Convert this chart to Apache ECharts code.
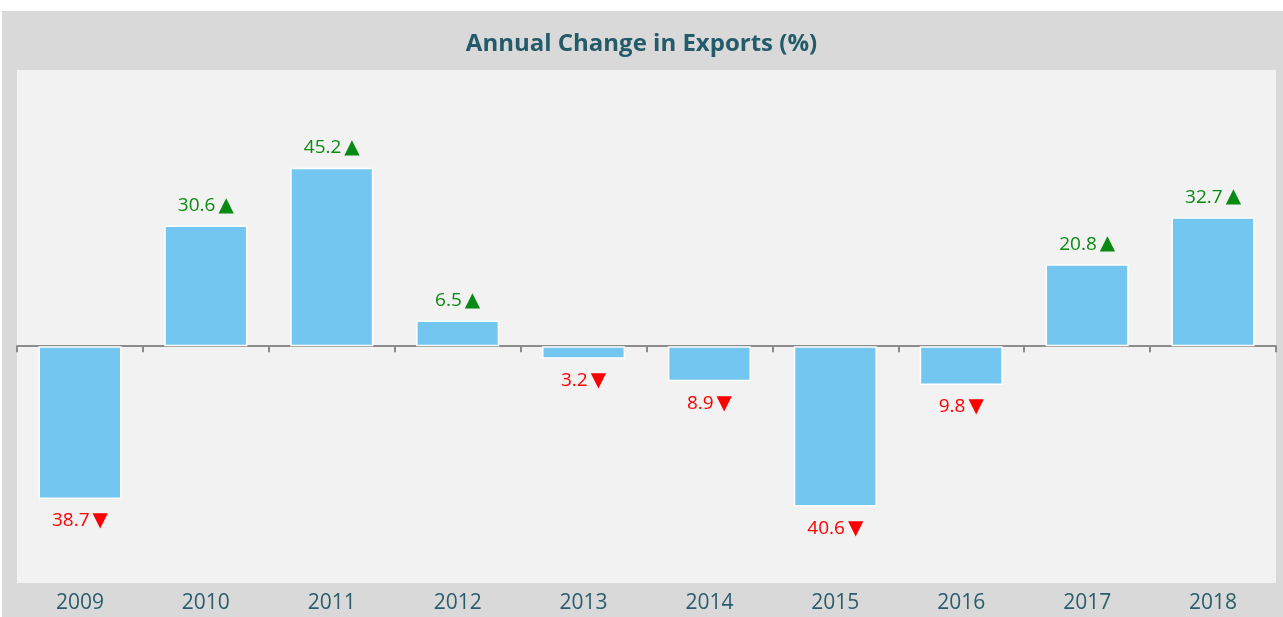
<!DOCTYPE html>
<html>
<head>
<meta charset="utf-8">
<script src="https://cdn.jsdelivr.net/npm/echarts@6/dist/echarts.min.js"></script>
<style>
  html, body { margin: 0; padding: 0; background: #fff; }
  #frame { position: absolute; left: 2px; top: 11px; right: 0; bottom: 0; background: #d9d9d9; }
  #chart { position: absolute; left: 0; top: 0; width: 1283px; height: 617px; }
</style>
</head>
<body>
<div id="frame"></div>
<div id="chart"></div>
<script>
// data
const years = ['2009', '2010', '2011', '2012', '2013', '2014', '2015', '2016', '2017', '2018'];
const changes = [-38.7, 30.6, 45.2, 6.5, -3.2, -8.9, -40.6, -9.8, 20.8, 32.7];

const font = '"Open Sans", sans-serif';
const arrowFont = '"DejaVu Sans", sans-serif';

const myChart = echarts.init(document.getElementById('chart'));
myChart.setOption({
  backgroundColor: 'transparent',
  animation: false,
  title: {
    text: 'Annual Change in Exports (%)',
    left: 'center',
    top: 27,
    textStyle: {color: '#245b6b', fontFamily: font, fontWeight: 'bold', fontSize: 24}
  },
  grid: {
    left: 17, right: 7, top: 70, bottom: 34,
    show: true, backgroundColor: '#f2f2f2', borderWidth: 0
  },
  xAxis: [
    {
      type: 'category',
      data: years,
      axisLine: {onZero: true, lineStyle: {color: '#8c8c8c', width: 2}},
      axisTick: {show: true, length: 6, lineStyle: {color: '#8c8c8c', width: 2}},
      axisLabel: {show: false}
    },
    {
      type: 'category',
      data: years,
      position: 'bottom',
      axisLine: {show: false},
      axisTick: {show: false},
      axisLabel: {color: '#2b5d6c', fontFamily: font, fontSize: 21, margin: 10}
    }
  ],
  yAxis: {type: 'value', min: -60, max: 70, show: false, splitLine: {show: false}},
  series: [{
    type: 'bar',
    data: changes.map(v => v < 0
      ? {value: v, label: {position: 'bottom', distance: 12}}
      : v),
    barWidth: '66%',
    itemStyle: {color: '#73c6f0', borderColor: '#ffffff', borderWidth: 1.5},
    label: {
      show: true,
      position: 'top',
      distance: 10,
      formatter: p => p.value >= 0
        ? '{up|' + p.value.toFixed(1) + '}{upT|▲}'
        : '{down|' + Math.abs(p.value).toFixed(1) + '}{downT|▼}',
      rich: {
        up: {color: '#0a8a12', fontFamily: font, fontSize: 19},
        upT: {color: '#0a8a12', fontFamily: arrowFont, fontSize: 20, padding: [0, 0, 0, 3]},
        down: {color: '#ff0000', fontFamily: font, fontSize: 19},
        downT: {color: '#ff0000', fontFamily: arrowFont, fontSize: 20, padding: [0, 0, 0, 3]}
      }
    }
  }]
});
</script>
</body>
</html>
